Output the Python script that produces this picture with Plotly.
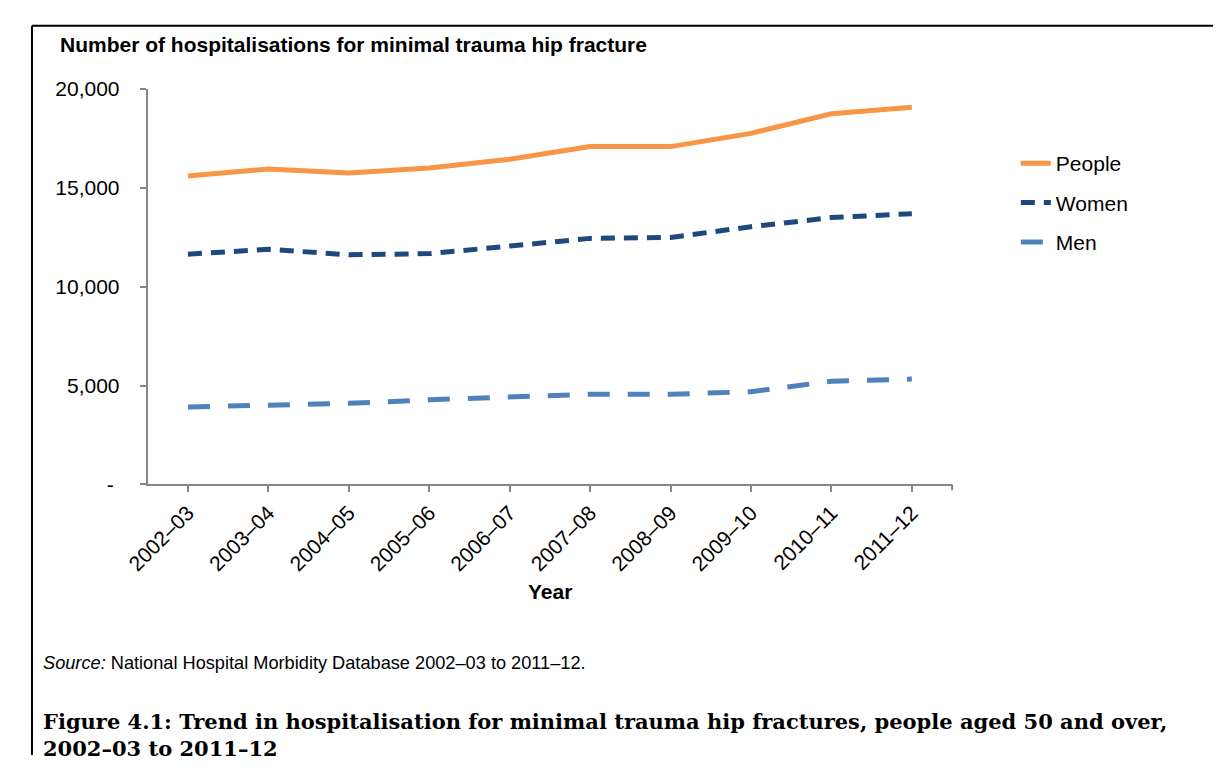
import plotly.graph_objects as go

years = ["2002–03", "2003–04", "2004–05", "2005–06", "2006–07",
         "2007–08", "2008–09", "2009–10", "2010–11", "2011–12"]
people = [15590, 15950, 15740, 16000, 16440, 17080, 17080, 17750, 18740, 19070]
women = [11640, 11890, 11610, 11670, 12050, 12440, 12490, 13030, 13490, 13690]
men = [3920, 4000, 4100, 4280, 4440, 4560, 4560, 4690, 5220, 5330]

ytick_vals = [0, 5000, 10000, 15000, 20000]
ytick_text = ["- ", "5,000", "10,000", "15,000", "20,000"]

# figure sized to fit the viewport inside the default 8px body margin
W, H = 1205, 758
OFF = 8  # page offset of the figure


def px(x):
    return (x - OFF) / W


def py(y):
    return (H - (y - OFF)) / H


FONT = "Liberation Sans, Arial, sans-serif"
AXC = "#868686"

fig = go.Figure()
fig.add_trace(go.Scatter(x=years, y=people, mode="lines", name="People", legendgroup="a",
                         line=dict(color="#F79646", width=5)))
fig.add_trace(go.Scatter(x=years, y=women, mode="lines", name="Women", legendgroup="b",
                         line=dict(color="#1F497D", width=5, dash="14px,9px")))
fig.add_trace(go.Scatter(x=years, y=men, mode="lines", name="Men", legendgroup="c",
                         line=dict(color="#4F81BD", width=5, dash="22px,18px")))

x0, x1 = px(127), px(947)
y0, y1 = py(487), py(79)

fig.update_layout(
    width=W, height=H,
    margin=dict(l=0, r=0, t=0, b=0),
    paper_bgcolor="white", plot_bgcolor="white",
    font=dict(family=FONT, size=21, color="black"),
    showlegend=True,
    legend=dict(x=px(1012), y=py(135), xanchor="left", yanchor="top",
                font=dict(size=21), tracegroupgap=9, bgcolor="rgba(0,0,0,0)"),
    xaxis=dict(domain=[x0, x1], type="category", range=[-0.5, 9.5],
               showline=True, linecolor=AXC, linewidth=2,
               ticks="outside", ticklen=6, tickcolor=AXC, tickwidth=2,
               tickangle=-45, tickfont=dict(size=21), showgrid=False, zeroline=False),
    yaxis=dict(domain=[y0, y1], range=[0, 20000],
               tickvals=ytick_vals, ticktext=ytick_text,
               showline=True, linecolor=AXC, linewidth=2,
               ticks="outside", ticklen=6, tickcolor=AXC, tickwidth=2,
               ticklabelstandoff=16, tickfont=dict(size=21),
               showgrid=False, zeroline=False),
)

# end tick at right of the category axis
fig.add_shape(type="line", xref="paper", yref="paper",
              x0=x1, x1=x1, y0=y0, y1=y0 - 6 / H, line=dict(color=AXC, width=2))

# frame lines (top and left)
fig.add_shape(type="line", xref="paper", yref="paper",
              x0=1 / W, x1=1, y0=py(14), y1=py(14), line=dict(color="black", width=2))
fig.add_shape(type="line", xref="paper", yref="paper",
              x0=1 / W, x1=1 / W, y0=py(14), y1=0, line=dict(color="black", width=2))

fig.add_annotation(text="<b>Year</b>", xref="paper", yref="paper",
                   x=(x0 + x1) / 2, y=py(597), xanchor="center", yanchor="middle",
                   showarrow=False, font=dict(family=FONT, size=21))
fig.add_annotation(text="<b>Number of hospitalisations for minimal trauma hip fracture</b>",
                   xref="paper", yref="paper", x=px(36), y=py(33),
                   xanchor="left", yanchor="middle", showarrow=False,
                   font=dict(family=FONT, size=21))
fig.add_annotation(text="<i>Source:</i> National Hospital Morbidity Database 2002–03 to 2011–12.",
                   xref="paper", yref="paper", x=px(18), y=py(671),
                   xanchor="left", yanchor="middle", showarrow=False,
                   font=dict(family=FONT, size=18.2))
fig.add_annotation(text="<b>Figure 4.1: Trend in hospitalisation for minimal trauma hip fractures, people aged 50 and over,<br>2002–03 to 2011–12</b>",
                   xref="paper", yref="paper", x=px(18), y=py(745),
                   xanchor="left", yanchor="middle", align="left", showarrow=False,
                   font=dict(family="DejaVu Serif, serif", size=21))

fig.write_html("out.html")
